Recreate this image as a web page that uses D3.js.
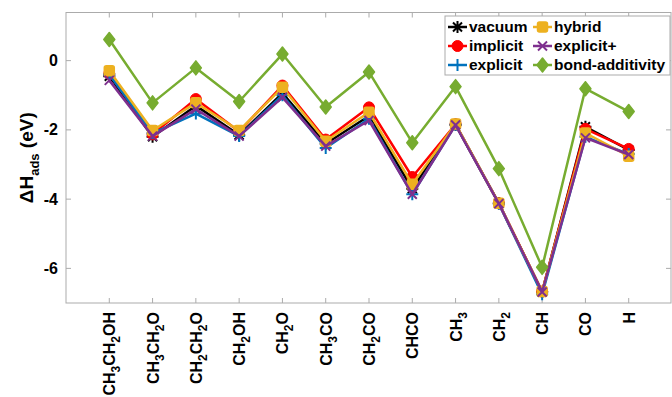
<!DOCTYPE html>
<html>
<head>
<meta charset="utf-8">
<script src="https://cdn.jsdelivr.net/npm/d3@7"></script>
<style>
body{margin:0;background:#fff;}
text{font-family:"Liberation Sans",Arial,sans-serif;font-weight:bold;}
</style>
</head>
<body>
<svg width="672" height="397"></svg>
<script>
// adsorbates, label parts: [text, isSubscript]
var species = [
  [["CH",0],["3",1],["CH",0],["2",1],["OH",0]],
  [["CH",0],["3",1],["CH",0],["2",1],["O",0]],
  [["CH",0],["2",1],["CH",0],["2",1],["O",0]],
  [["CH",0],["2",1],["OH",0]],
  [["CH",0],["2",1],["O",0]],
  [["CH",0],["3",1],["CO",0]],
  [["CH",0],["2",1],["CO",0]],
  [["CHCO",0]],
  [["CH",0],["3",1]],
  [["CH",0],["2",1]],
  [["CH",0]],
  [["CO",0]],
  [["H",0]]
];

var vacuum   = [-0.45,-2.20,-1.30,-2.15,-0.94,-2.40,-1.60,-3.70,-1.85,-4.12,-6.68,-1.91,-2.58];
var implicit = [-0.38,-2.13,-1.11,-2.05,-0.72,-2.28,-1.35,-3.36,-1.84,-4.12,-6.67,-1.97,-2.55];
var explicitV= [-0.40,-2.10,-1.53,-2.18,-1.00,-2.52,-1.68,-3.86,-1.85,-4.13,-6.75,-2.20,-2.70];
var hybrid   = [-0.29,-2.02,-1.22,-2.02,-0.77,-2.33,-1.49,-3.57,-1.83,-4.12,-6.67,-2.09,-2.76];
var explicitP= [-0.57,-2.18,-1.40,-2.18,-1.06,-2.47,-1.73,-3.86,-1.86,-4.13,-6.68,-2.23,-2.71];
var bondAdd  = [0.61,-1.22,-0.21,-1.18,0.19,-1.34,-0.33,-2.37,-0.75,-3.12,-5.97,-0.81,-1.47];

var seriesNames = ["vacuum","implicit","explicit","hybrid","explicit+","bond-additivity"];
var seriesVals = [vacuum, implicit, explicitV, hybrid, explicitP, bondAdd];
var seriesColors = ["#000000","#ff0000","#0072bd","#edb120","#7e2f8e","#77ac30"];
var seriesMarkers = ["star","circle","plus","square","cross","diamond"];
var yTicks = [0,-2,-4,-6];

var svg = d3.select("svg");
var L = 66, R = 671, T = 12.5, B = 303;

var x = d3.scaleLinear().domain([0,14]).range([L,672]);
var y = d3.scaleLinear().domain([-7,1.39]).range([B,T]);

var axisCol = "#ababab";

// box
svg.append("rect").attr("x",L).attr("y",T).attr("width",R-L).attr("height",B-T)
  .attr("fill","none").attr("stroke",axisCol).attr("stroke-width",1);

// ticks (inside, both sides)
species.forEach(function(s,i){
  var xx = x(i+1);
  svg.append("line").attr("x1",xx).attr("x2",xx).attr("y1",B).attr("y2",B-5).attr("stroke",axisCol);
  svg.append("line").attr("x1",xx).attr("x2",xx).attr("y1",T).attr("y2",T+5).attr("stroke",axisCol);
});
yTicks.forEach(function(t){
  var yy = y(t);
  svg.append("line").attr("x1",L).attr("x2",L+5).attr("y1",yy).attr("y2",yy).attr("stroke",axisCol);
  svg.append("line").attr("x1",R).attr("x2",R-5).attr("y1",yy).attr("y2",yy).attr("stroke",axisCol);
  svg.append("text").attr("x",L-8).attr("y",yy).attr("dy","0.35em")
    .attr("text-anchor","end").style("font-size","16px").attr("fill","#000").text(t);
});

// x tick labels, rotated (reading upward, ending at the tick)
species.forEach(function(parts,i){
  var t = svg.append("text")
    .attr("transform","translate("+(x(i+1)+6)+","+(B+9)+") rotate(-90)")
    .attr("text-anchor","end").style("font-size","16px").attr("fill","#000");
  parts.forEach(function(p,j){
    var prevSub = j>0 && parts[j-1][1];
    if(p[1]) t.append("tspan").attr("dy",5).style("font-size","12px").text(p[0]);
    else t.append("tspan").attr("dy",prevSub ? -5 : 0).text(p[0]);
  });
});

// y label
var yl = svg.append("text")
  .attr("transform","translate(33,"+((T+B)/2)+") rotate(-90)")
  .attr("text-anchor","middle").style("font-size","19px").attr("fill","#000");
yl.append("tspan").text("\u0394H");
yl.append("tspan").attr("dy",6).style("font-size","13px").text("ads");
yl.append("tspan").attr("dy",-6).text(" (eV)");

function drawMarker(g, type, cx, cy, col){
  if(type==="circle"){
    g.append("circle").attr("cx",cx).attr("cy",cy).attr("r",5.5).attr("fill",col).attr("stroke",col);
  } else if(type==="square"){
    g.append("rect").attr("x",cx-5).attr("y",cy-5).attr("width",10).attr("height",10).attr("rx",2)
      .attr("fill",col).attr("stroke",col).attr("stroke-width",1.5);
  } else if(type==="diamond"){
    g.append("path").attr("d","M"+cx+","+(cy-7)+"L"+(cx+5.5)+","+cy+"L"+cx+","+(cy+7)+"L"+(cx-5.5)+","+cy+"Z")
      .attr("fill",col).attr("stroke",col).attr("stroke-width",1.5).attr("stroke-linejoin","round");
  } else {
    var s = 6, d = 4.5, p = "";
    if(type==="plus"||type==="star") p += "M"+(cx-s)+","+cy+"H"+(cx+s)+"M"+cx+","+(cy-s)+"V"+(cy+s);
    if(type==="cross"||type==="star") p += "M"+(cx-d)+","+(cy-d)+"L"+(cx+d)+","+(cy+d)+"M"+(cx-d)+","+(cy+d)+"L"+(cx+d)+","+(cy-d);
    g.append("path").attr("d",p).attr("stroke",col).attr("stroke-width",2).attr("fill","none");
  }
}

var line = d3.line().x(function(d,i){return x(i+1);}).y(function(d){return y(d);});

seriesVals.forEach(function(vals,k){
  var g = svg.append("g");
  g.append("path").datum(vals).attr("d",line).attr("fill","none")
    .attr("stroke",seriesColors[k]).attr("stroke-width",2.5).attr("stroke-linejoin","round");
  vals.forEach(function(v,i){ drawMarker(g, seriesMarkers[k], x(i+1), y(v), seriesColors[k]); });
});

// legend
var lg = svg.append("g");
lg.append("rect").attr("x",445).attr("y",16).attr("width",225).attr("height",59)
  .attr("fill","#fff").attr("stroke",axisCol);
seriesNames.forEach(function(n,k){
  var col = Math.floor(k/3), row = k%3;
  var lx = col ? 533 : 448, ly = 27 + row*19;
  lg.append("line").attr("x1",lx).attr("x2",lx+19).attr("y1",ly).attr("y2",ly)
    .attr("stroke",seriesColors[k]).attr("stroke-width",2.5);
  drawMarker(lg, seriesMarkers[k], lx+9.5, ly, seriesColors[k]);
  lg.append("text").attr("x",lx+21).attr("y",ly).attr("dy","0.35em")
    .style("font-size","15.5px").attr("fill","#000").text(n);
});
</script>
</body>
</html>
